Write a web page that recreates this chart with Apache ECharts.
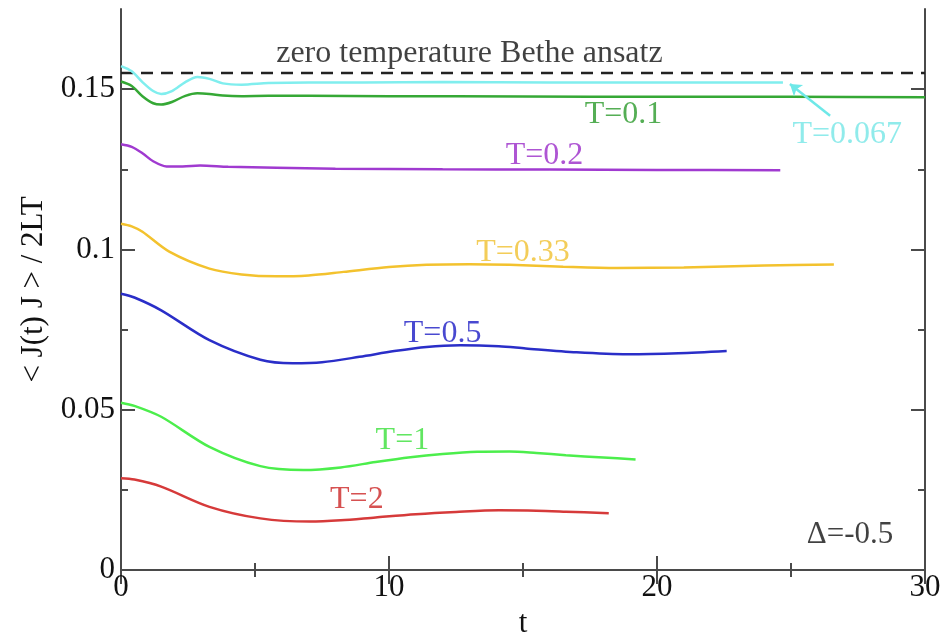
<!DOCTYPE html>
<html>
<head>
<meta charset="utf-8">
<script src="https://cdn.jsdelivr.net/npm/echarts@6/dist/echarts.min.js"></script>
<style>html,body{margin:0;padding:0;background:#fff}#c{width:947px;height:635px}</style>
</head>
<body>
<div id="c"></div>
<script>
// ---- data ----
var xTicks = [0, 10, 20, 30];
var yMajorTicks = [0, 0.05, 0.1, 0.15];
var yMinorTicks = [0.025, 0.075, 0.125];

var betheT = [0, 30];
var betheV = [0.155, 0.155];

var t067 = [0, 0.4, 0.8, 1.2, 1.5, 1.9, 2.4, 2.85, 3.3, 3.8, 4.5, 5.5, 7, 9, 12, 16, 20, 24.7];
var v067 = [0.1572, 0.1556, 0.1522, 0.1494, 0.1485, 0.1494, 0.1522, 0.1538, 0.1532, 0.1518, 0.1514, 0.1519, 0.1521, 0.1521, 0.1522, 0.1521, 0.1521, 0.1521];

var t01 = [0, 0.4, 0.8, 1.2, 1.5, 1.9, 2.4, 2.85, 3.3, 3.8, 4.5, 5.5, 7, 10, 15, 20, 25, 30];
var v01 = [0.1524, 0.1510, 0.1478, 0.1456, 0.1452, 0.1460, 0.1479, 0.1487, 0.1485, 0.1480, 0.1478, 0.1479, 0.1479, 0.1478, 0.1477, 0.1476, 0.1476, 0.1475];

var t02 = [0, 0.4, 0.8, 1.2, 1.7, 2.3, 2.95, 4, 5.8, 8, 12, 16, 20, 24.6];
var v02 = [0.1328, 0.1320, 0.1300, 0.1275, 0.1259, 0.1259, 0.1262, 0.1258, 0.1255, 0.1252, 0.1250, 0.1249, 0.1248, 0.1247];

var t033 = [0, 0.4, 0.8, 1.8, 3.3, 4.5, 5.8, 7, 8.3, 10, 11.4, 13, 14.5, 16.5, 18.5, 21, 24, 26.6];
var v033 = [0.1080, 0.1072, 0.1055, 0.0993, 0.0940, 0.0922, 0.0916, 0.0919, 0.0930, 0.0945, 0.0952, 0.0954, 0.0952, 0.0946, 0.0942, 0.0944, 0.0950, 0.0953];

var t05 = [0, 0.5, 1.5, 3.3, 5.2, 6.4, 7.5, 8.9, 10.2, 11.4, 12.65, 14.1, 15.1, 17, 18.9, 20.8, 22.6];
var v05 = [0.0862, 0.0850, 0.0810, 0.0717, 0.0656, 0.0645, 0.0648, 0.0665, 0.0683, 0.0696, 0.0701, 0.0698, 0.0691, 0.0679, 0.0673, 0.0676, 0.0683];

var t1 = [0, 0.5, 1.5, 3.3, 5.2, 6.8, 8.2, 9.5, 10.8, 12, 13.3, 14.5, 15.5, 16.6, 18, 19.2];
var v1 = [0.0522, 0.0512, 0.0478, 0.0384, 0.0324, 0.0312, 0.0320, 0.0337, 0.0352, 0.0362, 0.0369, 0.0370, 0.0365, 0.0358, 0.0351, 0.0345];

var t2 = [0, 0.5, 1.5, 3.3, 5.2, 7.05, 8.2, 9.5, 11, 12.5, 14.1, 15.5, 16.6, 18.2];
var v2 = [0.0286, 0.0282, 0.0260, 0.0197, 0.0161, 0.0151, 0.0155, 0.0164, 0.0174, 0.0181, 0.0186, 0.0185, 0.0182, 0.0177];

// labels: [t, value, text]
var labelBethe = [13.0, 0.1612, 'zero temperature Bethe ansatz'];
var label01 = [18.75, 0.1420, 'T=0.1'];
var label067 = [27.1, 0.1357, 'T=0.067'];
var label02 = [15.8, 0.1294, 'T=0.2'];
var label033 = [15.0, 0.0991, 'T=0.33'];
var label05 = [12.0, 0.0737, 'T=0.5'];
var label1 = [10.5, 0.0403, 'T=1'];
var label2 = [8.8, 0.0219, 'T=2'];
var labelDelta = [27.2, 0.0110, '\u0394=-0.5'];
var arrow067 = [[26.46, 0.1417], [24.96, 0.1516]];

// ---- chart ----
var FONT = '"Liberation Serif", "DejaVu Serif", serif';
function pairs(t, v) { return t.map(function (x, i) { return [x, v[i]]; }); }
function lineSeries(t, v, color, extra) {
  var s = {
    type: 'line', data: pairs(t, v), smooth: 0.3, showSymbol: false, symbol: 'none',
    lineStyle: { color: color, width: 2.5 }, z: 3, silent: true, animation: false
  };
  if (extra) for (var k in extra) s[k] = extra[k];
  return s;
}
function textSeries(lbl, color, size) {
  return {
    type: 'scatter', data: [[lbl[0], lbl[1]]], symbolSize: 1,
    itemStyle: { color: 'rgba(0,0,0,0)' }, silent: true, animation: false, z: 5,
    label: { show: true, position: 'inside', formatter: lbl[2], color: color,
      fontFamily: FONT, fontSize: size || 32 }
  };
}
var AX = '#4a4a4a';
var chart = echarts.init(document.getElementById('c'), null, { renderer: 'canvas' });
var yBase = { type: 'value', min: 0, max: 0.175, splitLine: { show: false } };
function yAx(pos, major, labels) {
  var o = Object.assign({}, yBase, {
    position: pos,
    axisLine: { show: major, lineStyle: { color: AX, width: 2 } },
    axisTick: { show: true, inside: true, length: major ? 14 : 7,
      customValues: major ? yMajorTicks : yMinorTicks, lineStyle: { color: AX, width: 2 } },
    axisLabel: { show: labels, customValues: yMajorTicks, fontFamily: FONT, fontSize: 31,
      color: '#111', margin: 6,
      formatter: function (v) { return v === 0 ? '0' : String(+v.toFixed(3)); } }
  });
  return o;
}
var yA = yAx('left', true, true);
yA.name = '< J(t) J > / 2LT';
yA.nameLocation = 'middle';
yA.nameGap = 72;
yA.nameTextStyle = { fontFamily: FONT, fontSize: 31, color: '#111' };
function xAx(pos, labels) {
  return {
    type: 'value', min: 0, max: 30, interval: 10, position: pos,
    splitLine: { show: false },
    axisLine: { show: true, lineStyle: { color: AX, width: 2 } },
    axisTick: { show: true, inside: true, length: 14, lineStyle: { color: AX, width: 2 } },
    minorTick: { show: true, splitNumber: 2, length: 7, lineStyle: { color: AX, width: 2 } },
    axisLabel: { show: labels, fontFamily: FONT, fontSize: 31, color: '#111', margin: 2,
      customValues: xTicks }
  };
}
var xA = xAx('bottom', true);
xA.name = 't';
xA.nameLocation = 'middle';
xA.nameGap = 36;
xA.nameTextStyle = { fontFamily: FONT, fontSize: 31, color: '#111' };

chart.setOption({
  animation: false,
  backgroundColor: '#fff',
  grid: { left: 121, right: 22, top: 9, bottom: 65, containLabel: false, outerBoundsMode: 'none' },
  xAxis: [xA, xAx('top', false)],
  yAxis: [yA, yAx('left', false, false), yAx('right', true, false), yAx('right', false, false)],
  series: [
    lineSeries(betheT, betheV, '#222', { smooth: false, lineStyle: { color: '#222', width: 2.5, type: [12, 8] } }),
    lineSeries(t2, v2, '#d63a3a'),
    lineSeries(t1, v1, '#4cee4c'),
    lineSeries(t05, v05, '#2a2ec8'),
    lineSeries(t033, v033, '#f3c22e'),
    lineSeries(t02, v02, '#a03ad0'),
    lineSeries(t01, v01, '#35a835'),
    lineSeries(t067, v067, '#80eeee'),
    {
      type: 'lines', coordinateSystem: 'cartesian2d', silent: true, animation: false, z: 4,
      symbol: ['none', 'arrow'], symbolSize: 11,
      lineStyle: { color: '#6ee8e8', width: 2.5, opacity: 1 },
      data: [{ coords: arrow067 }]
    },
    textSeries(labelBethe, '#111', 32),
    textSeries(label01, '#2a9a2a'),
    textSeries(label067, '#74e6e6'),
    textSeries(label02, '#9a2ac8'),
    textSeries(label033, '#f0c030'),
    textSeries(label05, '#1c1cc4'),
    textSeries(label1, '#3ae03a'),
    textSeries(label2, '#cc2626'),
    textSeries(labelDelta, '#111', 31)
  ]
});
</script>
</body>
</html>
